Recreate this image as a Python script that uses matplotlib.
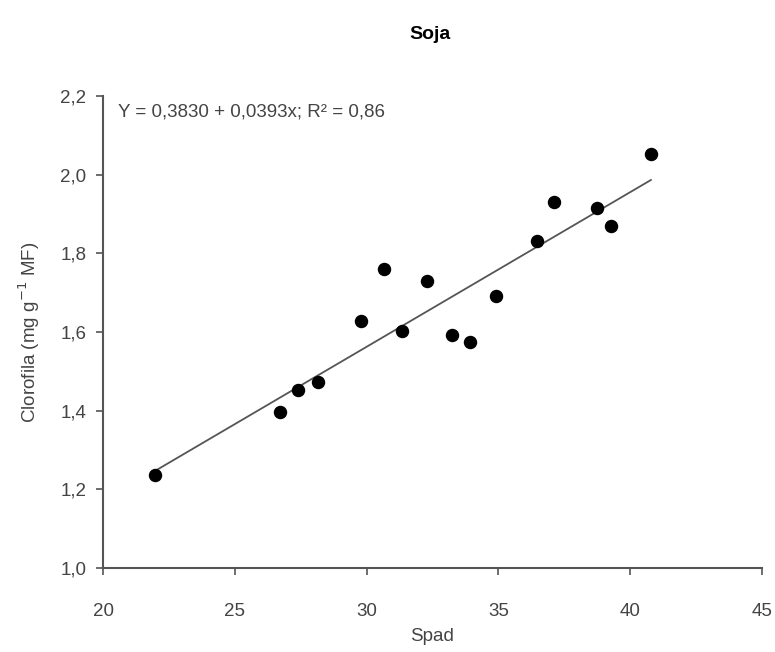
import matplotlib.pyplot as plt

plt.rcParams['font.family'] = ['Liberation Sans', 'DejaVu Sans']

# leituras do gráfico
spad = [21.97, 26.71, 27.40, 28.16, 29.79, 30.66, 31.34, 32.29,
        33.24, 33.92, 34.91, 36.46, 37.11, 38.74, 39.27, 40.79]
clorofila = [1.237, 1.397, 1.453, 1.473, 1.628, 1.761, 1.603, 1.730,
             1.593, 1.575, 1.692, 1.832, 1.931, 1.916, 1.868, 2.051]

intercepto = 0.3830
inclinacao = 0.0393
r2 = 0.86

xticks = [20, 25, 30, 35, 40, 45]
yticks = [1.0, 1.2, 1.4, 1.6, 1.8, 2.0, 2.2]


def do_plot():
    f = plt.figure(figsize=(7.75, 6.52), dpi=100)
    ax = f.add_axes([0.133, 0.129, 0.850, 0.724])

    x0, x1 = min(spad), max(spad)
    ax.plot([x0, x1], [intercepto + inclinacao * x0, intercepto + inclinacao * x1],
            color='#555555', linewidth=1.3, zorder=2)
    ax.scatter(spad, clorofila, s=75, color='black', zorder=3)

    ax.set_xlim(20, 45)
    ax.set_ylim(1.0, 2.2)
    ax.set_xticks(xticks)
    ax.set_yticks(yticks)
    ax.set_xticklabels([str(t) for t in xticks])
    ax.set_yticklabels([('%.1f' % t).replace('.', ',') for t in yticks])

    for s in ['top', 'right']:
        ax.spines[s].set_visible(False)
    for s in ['left', 'bottom']:
        ax.spines[s].set_color('#555555')
        ax.spines[s].set_linewidth(1.5)
    ax.tick_params(direction='out', length=5, width=1.2, color='#555555',
                   labelsize=13.5, labelcolor='#444444')
    ax.tick_params(axis='x', pad=20)
    ax.tick_params(axis='y', pad=7)

    ax.set_xlabel('Spad', fontsize=13.5, color='#444444', labelpad=6)
    ax.set_ylabel('Clorofila (mg g$^{-1}$ MF)', fontsize=13.5, color='#444444', labelpad=13)
    f.text(0.555, 0.947, 'Soja', fontsize=14, fontweight='bold', ha='center', va='center')

    eq = 'Y = %s + %sx; R² = %s' % (('%.4f' % intercepto).replace('.', ','),
                                     ('%.4f' % inclinacao).replace('.', ','),
                                     ('%.2f' % r2).replace('.', ','))
    ax.text(0.023, 0.965, eq, transform=ax.transAxes, fontsize=13.5,
            color='#444444', ha='left', va='center')

    plt.savefig('out.png', dpi=100)


if __name__ == '__main__':
    do_plot()
